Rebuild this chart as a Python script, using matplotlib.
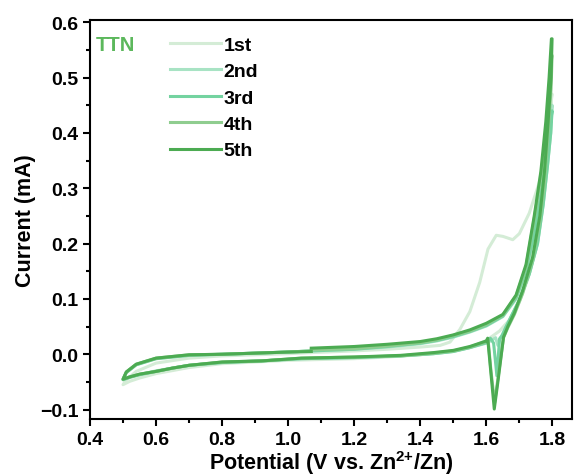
import matplotlib
matplotlib.use("Agg")
import matplotlib.pyplot as plt
from matplotlib.ticker import MultipleLocator

plt.rcParams['font.family'] = ['Liberation Sans', 'DejaVu Sans']
plt.rcParams['font.weight'] = 'bold'
plt.rcParams['mathtext.fontset'] = 'custom'
plt.rcParams['mathtext.bf'] = 'Liberation Sans:bold'
plt.rcParams['mathtext.rm'] = 'Liberation Sans:bold'
plt.rcParams['mathtext.default'] = 'bf'

# CV cycles of TTN, each sweep starts at 1.07 V, goes up to 1.8 V,
# back down to 0.5 V and up to 1.07 V again
cyc1_E = [1.07, 1.20, 1.30, 1.40, 1.46, 1.49, 1.52, 1.55, 1.58, 1.605, 1.63, 1.65, 1.68, 1.70, 1.73, 1.76, 1.78, 1.799,
          1.798, 1.79, 1.78, 1.768, 1.75, 1.725, 1.70, 1.67, 1.64, 1.60, 1.55, 1.50, 1.40, 1.30, 1.20, 1.00, 0.80, 0.70,
          0.60, 0.55, 0.52, 0.50,
          0.51, 0.54, 0.60, 0.70, 0.80, 0.90, 1.00, 1.07]
cyc1_I = [0.003, 0.006, 0.009, 0.013, 0.016, 0.022, 0.045, 0.077, 0.13, 0.19, 0.215, 0.213, 0.207, 0.218, 0.255, 0.31, 0.37, 0.47,
          0.47, 0.40, 0.33, 0.26, 0.19, 0.135, 0.095, 0.062, 0.042, 0.025, 0.012, 0.006, -0.001, -0.005, -0.008, -0.011, -0.017, -0.024,
          -0.035, -0.043, -0.049, -0.055,
          -0.046, -0.031, -0.016, -0.007, -0.003, -0.001, 0.001, 0.003]

cyc2_E = [1.07, 1.20, 1.30, 1.40, 1.45, 1.50, 1.55, 1.60, 1.65, 1.69, 1.72, 1.745, 1.765, 1.78, 1.79, 1.799,
          1.799, 1.795, 1.785, 1.772, 1.755, 1.73, 1.70, 1.675, 1.66, 1.648, 1.640, 1.635, 1.628, 1.615, 1.60, 1.55, 1.50,
          1.44, 1.34, 1.20, 1.04, 0.92, 0.80, 0.70, 0.65, 0.60, 0.55, 0.52, 0.50,
          0.51, 0.54, 0.60, 0.70, 0.80, 0.90, 1.00, 1.07]
cyc2_I = [0.006, 0.009, 0.013, 0.019, 0.024, 0.031, 0.040, 0.051, 0.068, 0.100, 0.148, 0.215, 0.28, 0.34, 0.39, 0.45,
          0.45, 0.40, 0.34, 0.27, 0.20, 0.145, 0.098, 0.068, 0.050, 0.035, 0.026, 0.016, 0.030, 0.025, 0.020, 0.012, 0.005,
          0.001, -0.003, -0.006, -0.008, -0.012, -0.015, -0.020, -0.025, -0.030, -0.037, -0.041, -0.046,
          -0.033, -0.019, -0.008, -0.002, 0.000, 0.002, 0.004, 0.006]

cyc3_E = [1.07, 1.20, 1.30, 1.40, 1.45, 1.50, 1.55, 1.60, 1.65, 1.69, 1.72, 1.745, 1.765, 1.78, 1.79, 1.799,
          1.799, 1.795, 1.785, 1.772, 1.755, 1.73, 1.70, 1.675, 1.66, 1.648, 1.640, 1.632, 1.622, 1.612, 1.60, 1.55, 1.50,
          1.44, 1.34, 1.20, 1.04, 0.92, 0.80, 0.70, 0.65, 0.60, 0.55, 0.52, 0.50,
          0.51, 0.54, 0.60, 0.70, 0.80, 0.90, 1.00, 1.07]
cyc3_I = [0.006, 0.009, 0.014, 0.020, 0.025, 0.032, 0.041, 0.052, 0.069, 0.102, 0.152, 0.22, 0.29, 0.35, 0.40, 0.44,
          0.44, 0.40, 0.34, 0.27, 0.20, 0.145, 0.098, 0.068, 0.050, 0.034, 0.028, -0.039, 0.020, 0.029, 0.021, 0.012, 0.005,
          0.001, -0.003, -0.006, -0.008, -0.012, -0.015, -0.020, -0.025, -0.031, -0.037, -0.042, -0.046,
          -0.033, -0.019, -0.008, -0.002, 0.000, 0.002, 0.004, 0.006]

cyc4_E = [1.07, 1.20, 1.30, 1.40, 1.45, 1.50, 1.55, 1.60, 1.65, 1.69, 1.72, 1.745, 1.765, 1.78, 1.79, 1.798,
          1.799, 1.796, 1.787, 1.776, 1.762, 1.74, 1.71, 1.685, 1.665, 1.652, 1.636, 1.625, 1.614, 1.605, 1.60, 1.55, 1.50,
          1.44, 1.34, 1.20, 1.04, 0.92, 0.80, 0.70, 0.65, 0.60, 0.55, 0.52, 0.50,
          0.51, 0.54, 0.60, 0.70, 0.80, 0.90, 1.00, 1.07]
cyc4_I = [0.008, 0.010, 0.015, 0.021, 0.026, 0.034, 0.042, 0.054, 0.071, 0.105, 0.158, 0.245, 0.32, 0.40, 0.47, 0.54,
          0.54, 0.48, 0.40, 0.31, 0.24, 0.17, 0.11, 0.072, 0.048, 0.030, -0.040, -0.088, -0.030, 0.028, 0.023, 0.013, 0.006,
          0.002, -0.003, -0.005, -0.007, -0.012, -0.014, -0.020, -0.025, -0.031, -0.036, -0.041, -0.045,
          -0.032, -0.018, -0.007, -0.001, 0.000, 0.002, 0.004, 0.006]

cyc5_E = [1.07, 1.20, 1.30, 1.40, 1.45, 1.50, 1.55, 1.60, 1.65, 1.69, 1.72, 1.745, 1.765, 1.78, 1.79, 1.797,
          1.799, 1.796, 1.787, 1.776, 1.762, 1.74, 1.71, 1.685, 1.665, 1.652, 1.636, 1.624, 1.614, 1.604, 1.60, 1.55, 1.50,
          1.44, 1.34, 1.20, 1.04, 0.92, 0.80, 0.70, 0.65, 0.60, 0.55, 0.52, 0.50,
          0.51, 0.54, 0.60, 0.70, 0.80, 0.90, 1.00, 1.07]
cyc5_I = [0.011, 0.014, 0.018, 0.023, 0.028, 0.035, 0.044, 0.056, 0.072, 0.107, 0.162, 0.25, 0.33, 0.42, 0.50, 0.57,
          0.57, 0.50, 0.42, 0.33, 0.25, 0.175, 0.115, 0.075, 0.050, 0.031, -0.045, -0.099, -0.035, 0.029, 0.024, 0.014, 0.007,
          0.003, -0.002, -0.005, -0.007, -0.012, -0.014, -0.020, -0.025, -0.031, -0.036, -0.041, -0.045,
          -0.032, -0.018, -0.007, -0.001, 0.000, 0.002, 0.004, 0.005]

labels = ['1st', '2nd', '3rd', '4th', '5th']
colors = ['#d4ecd6', '#a8e3c4', '#74d3a0', '#8fcd8f', '#4cab52']

fig = plt.figure(figsize=(5.78, 4.77), dpi=100)
ax = fig.add_axes([0.1557, 0.1195, 0.8343, 0.8365])

cycles = [(cyc1_E, cyc1_I), (cyc2_E, cyc2_I), (cyc3_E, cyc3_I), (cyc4_E, cyc4_I), (cyc5_E, cyc5_I)]
for (E, I), lab, c in zip(cycles, labels, colors):
    ax.plot(E, I, color=c, lw=2.2, label=lab, solid_joinstyle='round')

ax.set_xlim(0.4, 1.86)
ax.set_ylim(-0.117, 0.604)
ax.xaxis.set_major_locator(MultipleLocator(0.2))
ax.xaxis.set_minor_locator(MultipleLocator(0.1))
ax.yaxis.set_major_locator(MultipleLocator(0.1))
ax.yaxis.set_minor_locator(MultipleLocator(0.05))
ax.tick_params(which='major', direction='out', length=5, width=1.5, labelsize=14)
ax.tick_params(which='minor', direction='out', length=3, width=1.5)
for lbl in ax.get_xticklabels() + ax.get_yticklabels():
    lbl.set_fontweight('bold')
for s in ax.spines.values():
    s.set_linewidth(1.5)

ax.set_xlabel('Potential (V vs. Zn$^{2{+}}$/Zn)', fontsize=15.5, fontweight='bold', labelpad=0)
ax.set_ylabel('Current (mA)', fontsize=15.5, fontweight='bold', labelpad=3)

ax.text(0.012, 0.962, 'TTN', transform=ax.transAxes, color='#5cb85c', fontsize=14.5,
        fontweight='bold', va='top', ha='left')
leg = ax.legend(loc='upper left', bbox_to_anchor=(0.13, 1.003), frameon=False, fontsize=14,
                handlelength=2.6, handletextpad=0.15, labelspacing=0.45)
for t in leg.get_texts():
    t.set_fontweight('bold')

fig.savefig('out.png', dpi=100)
